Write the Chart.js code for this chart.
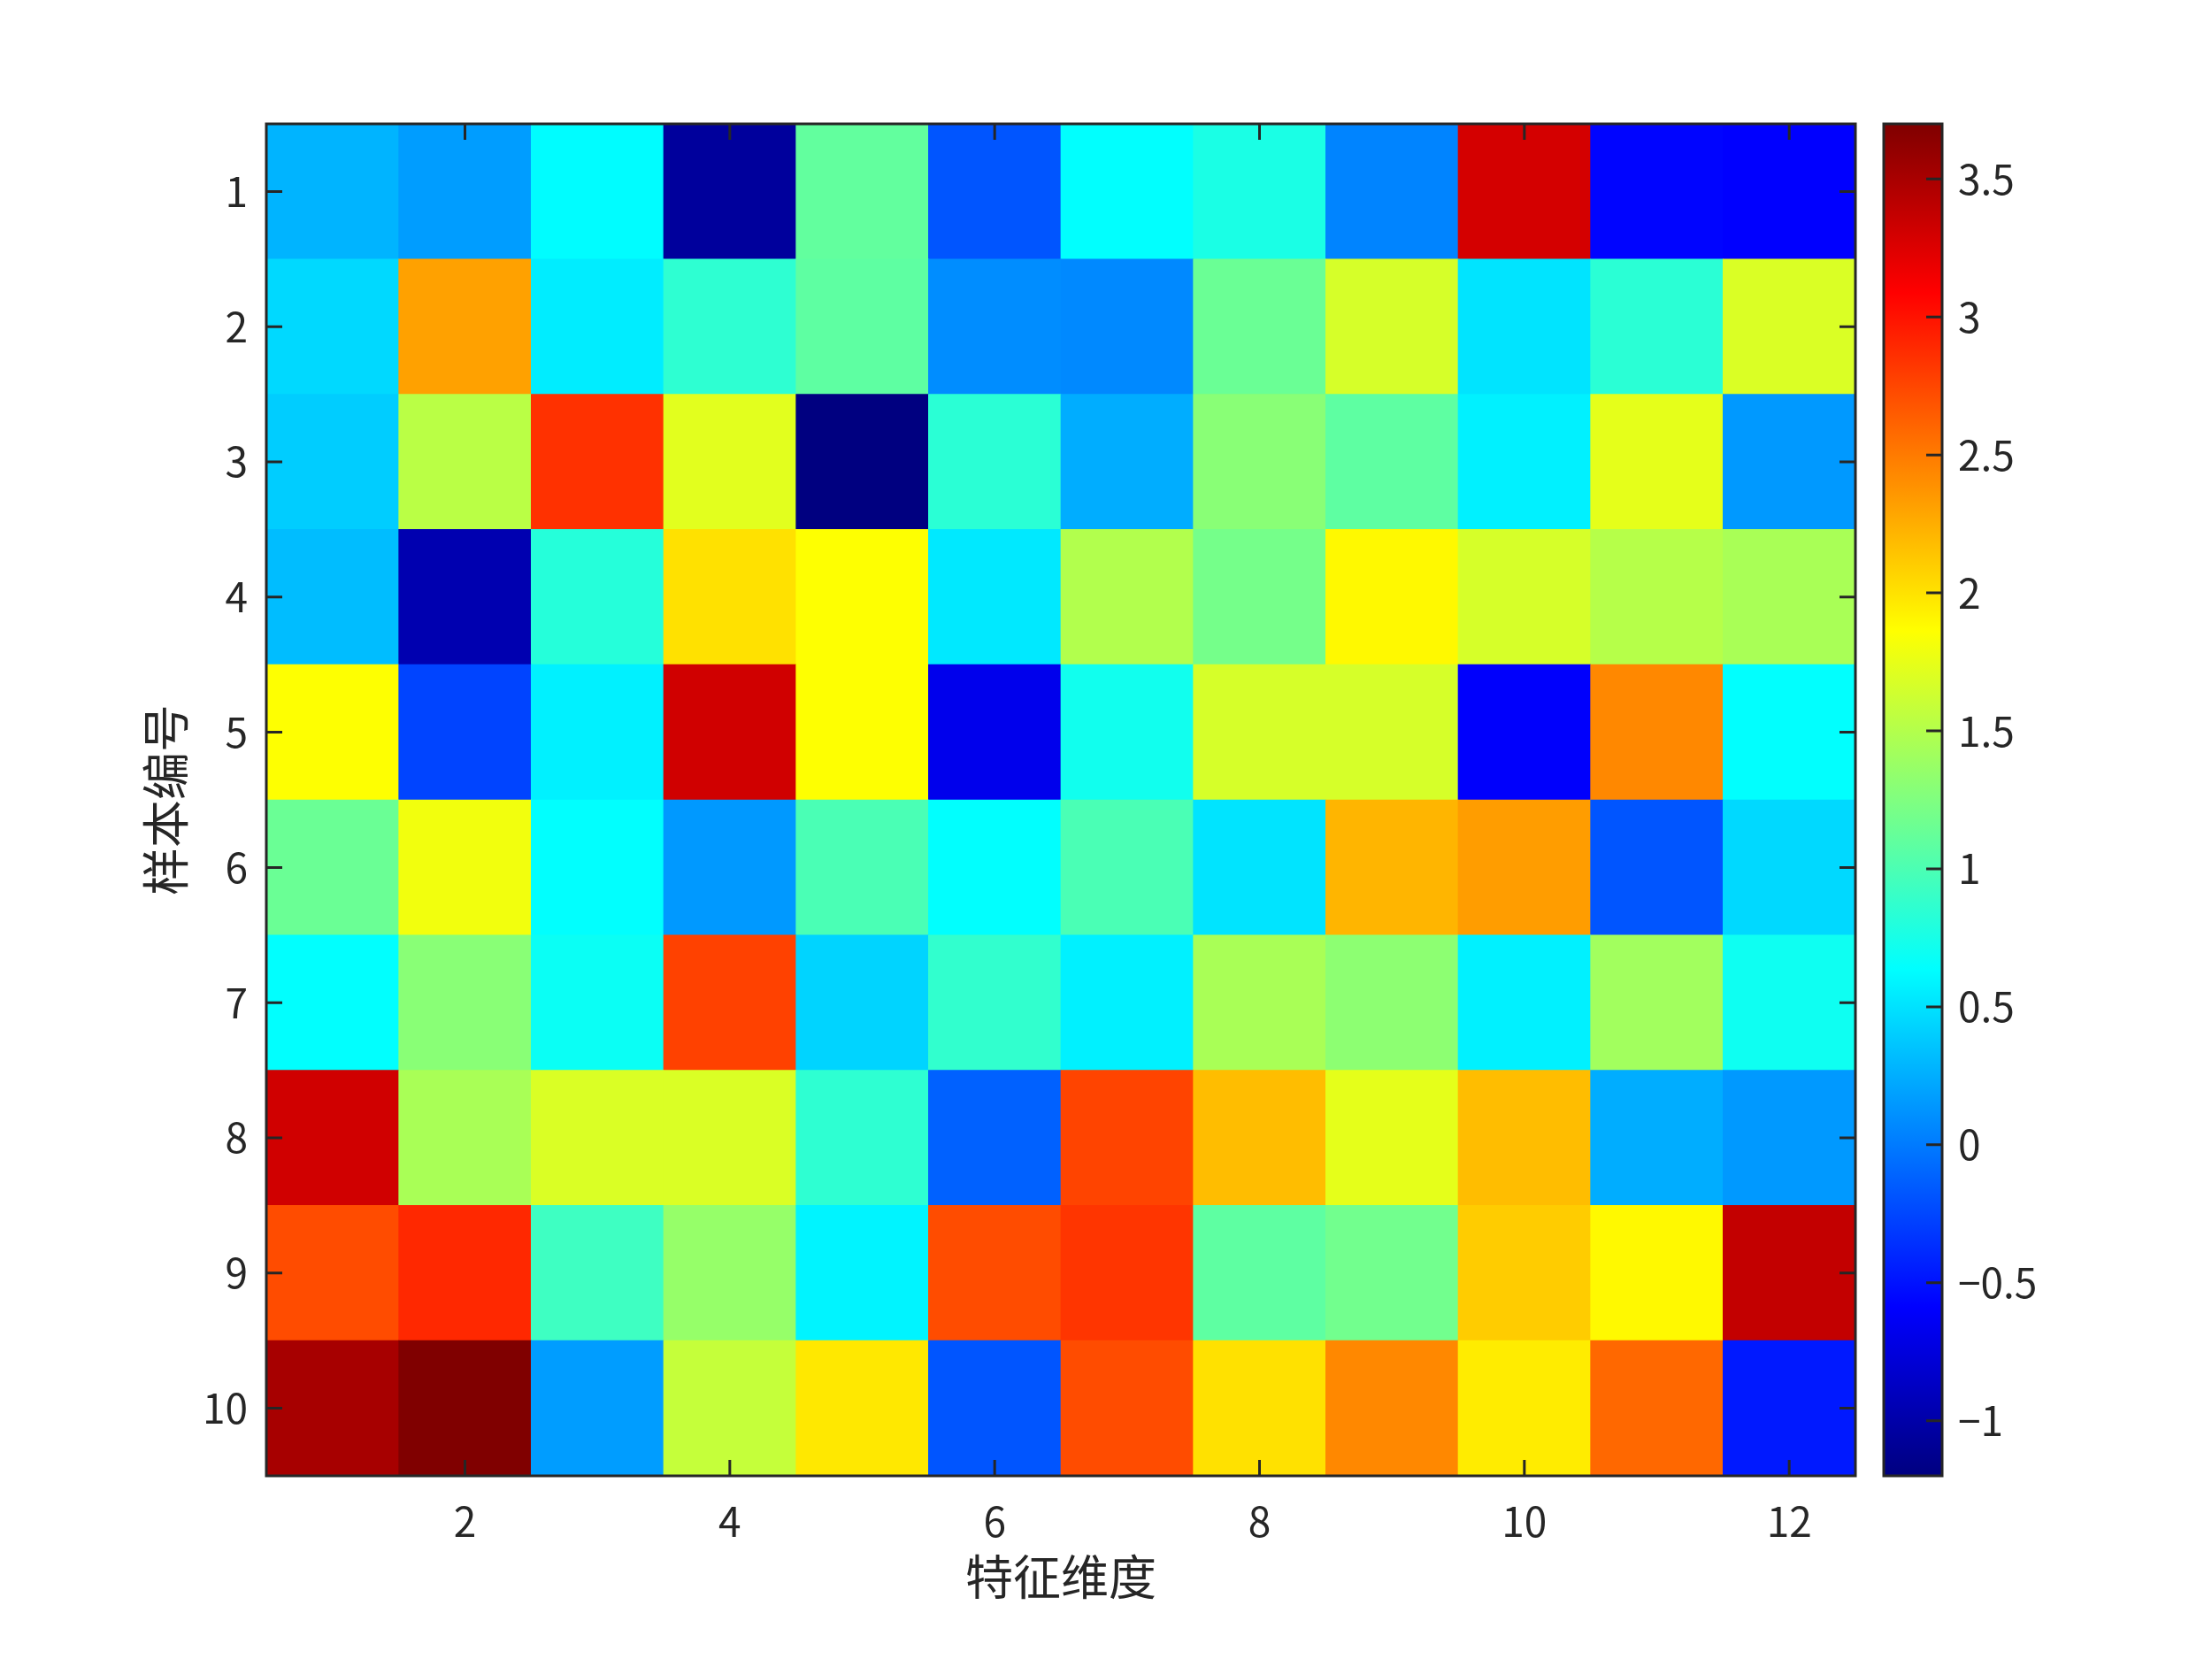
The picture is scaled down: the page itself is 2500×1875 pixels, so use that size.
<!DOCTYPE html>
<html lang="zh">
<head>
    <meta charset="UTF-8">
    <title>样本特征热图</title>
    <script src="https://cdn.jsdelivr.net/npm/chart.js"></script>
    <style>
        html, body { margin: 0; padding: 0; background: #fff; }
        .wrap { position: relative; width: 2500px; height: 1875px; }
        .wrap canvas { position: absolute; left: 0; top: 0; }
    </style>
</head>
<body>
    <div class="wrap">
        <canvas id="heatChart" width="2500" height="1875"></canvas>
        <canvas id="cbarChart" width="2500" height="1875"></canvas>
    </div>

    <script>
        // 列: 特征维度, 行: 样本编号
        const featureIds = [1, 2, 3, 4, 5, 6, 7, 8, 9, 10, 11, 12];
        const sampleIds = [1, 2, 3, 4, 5, 6, 7, 8, 9, 10];
        const xTickValues = [2, 4, 6, 8, 10, 12];
        const yTickValues = [1, 2, 3, 4, 5, 6, 7, 8, 9, 10];
        const cbarTickValues = [-1, -0.5, 0, 0.5, 1, 1.5, 2, 2.5, 3, 3.5];

        // 每行一个样本, 12 个特征
        const heatValues = [
            [0.28, 0.16, 0.62, -1.05, 1.10, -0.17, 0.64, 0.76, 0.05, 3.29, -0.55, -0.57],
            [0.45, 2.31, 0.55, 0.85, 1.08, 0.10, 0.08, 1.14, 1.66, 0.51, 0.83, 1.68],
            [0.39, 1.52, 2.85, 1.72, -1.20, 0.83, 0.24, 1.29, 1.08, 0.57, 1.73, 0.14],
            [0.32, -0.97, 0.81, 2.01, 1.86, 0.53, 1.48, 1.21, 1.90, 1.66, 1.50, 1.45],
            [1.86, -0.26, 0.57, 3.31, 1.86, -0.67, 0.72, 1.66, 1.66, -0.59, 2.42, 0.64],
            [1.15, 1.79, 0.64, 0.14, 1.00, 0.64, 1.00, 0.51, 2.22, 2.34, -0.17, 0.45],
            [0.64, 1.29, 0.68, 2.78, 0.43, 0.88, 0.57, 1.45, 1.31, 0.57, 1.42, 0.70],
            [3.31, 1.46, 1.69, 1.69, 0.85, -0.11, 2.76, 2.18, 1.73, 2.18, 0.24, 0.14],
            [2.72, 2.88, 0.94, 1.35, 0.59, 2.71, 2.82, 1.08, 1.19, 2.11, 1.90, 3.36],
            [3.49, 3.70, 0.16, 1.58, 1.97, -0.17, 2.72, 2.01, 2.42, 1.94, 2.58, -0.46]
        ];

        const axisColor = '#262626';
        const fontFamily = '"Noto Sans CJK SC", "Noto Sans", sans-serif';
        const tickLen = 18;

        const allVals = heatValues.flat();
        const cMin = Math.min(...allVals);
        const cMax = Math.max(...allVals);

        // jet colormap
        function jet(t) {
            const c = v => Math.round(255 * Math.max(0, Math.min(1, v)));
            const r = c(1.5 - Math.abs(4 * t - 3));
            const g = c(1.5 - Math.abs(4 * t - 2));
            const b = c(1.5 - Math.abs(4 * t - 1));
            return `rgb(${r},${g},${b})`;
        }
        function valueColor(v) {
            let t = (v - cMin) / (cMax - cMin);
            t = Math.min(255, Math.floor(t * 256)) / 255;
            return jet(t);
        }

        const fmt = v => (v < 0 ? '\u2212' + Math.abs(v) : String(v));

        // 内向刻度 + 外框
        const matlabFrame = {
            id: 'matlabFrame',
            afterDraw(chart, args, opts) {
                const { ctx, chartArea: a, scales } = chart;
                ctx.save();
                ctx.strokeStyle = axisColor;
                ctx.lineWidth = 3;
                ctx.beginPath();
                (opts.xSides || []).forEach(side => {
                    scales.x.ticks.forEach(t => {
                        const px = scales.x.getPixelForValue(t.value);
                        if (side === 'bottom') { ctx.moveTo(px, a.bottom); ctx.lineTo(px, a.bottom - tickLen); }
                        else { ctx.moveTo(px, a.top); ctx.lineTo(px, a.top + tickLen); }
                    });
                });
                (opts.ySides || []).forEach(side => {
                    scales.y.ticks.forEach(t => {
                        const py = scales.y.getPixelForValue(t.value);
                        if (side === 'left') { ctx.moveTo(a.left, py); ctx.lineTo(a.left + tickLen, py); }
                        else { ctx.moveTo(a.right, py); ctx.lineTo(a.right - tickLen, py); }
                    });
                });
                ctx.stroke();
                ctx.strokeRect(a.left, a.top, a.right - a.left, a.bottom - a.top);
                ctx.restore();
            }
        };

        // 热图单元: 浮动柱
        const cells = [];
        const cellColors = [];
        sampleIds.forEach((s, i) => {
            featureIds.forEach((f, j) => {
                cells.push({ x: f, y: [s - 0.5, s + 0.5] });
                cellColors.push(valueColor(heatValues[i][j]));
            });
        });

        new Chart(document.getElementById('heatChart'), {
            type: 'bar',
            data: {
                datasets: [{
                    data: cells,
                    backgroundColor: cellColors,
                    borderWidth: 0,
                    barPercentage: 1,
                    categoryPercentage: 1
                }]
            },
            plugins: [matlabFrame],
            options: {
                responsive: false,
                animation: false,
                layout: { padding: { left: 0, top: 140, right: 403, bottom: 0 } },
                plugins: {
                    legend: { display: false },
                    tooltip: { enabled: false },
                    matlabFrame: { xSides: ['bottom', 'top'], ySides: ['left', 'right'] }
                },
                scales: {
                    x: {
                        type: 'linear',
                        min: 0.5,
                        max: 12.5,
                        offset: false,
                        grid: { display: false, drawTicks: false },
                        border: { display: false },
                        afterBuildTicks: s => { s.ticks = xTickValues.map(v => ({ value: v })); },
                        afterFit: s => { s.height = 207; },
                        ticks: {
                            padding: 24,
                            color: axisColor,
                            font: { family: fontFamily, size: 46 },
                            callback: v => String(v)
                        },
                        title: {
                            display: true,
                            text: '特征维度',
                            color: axisColor,
                            font: { family: fontFamily, size: 54 },
                            padding: { top: 0, bottom: 60 }
                        }
                    },
                    y: {
                        type: 'linear',
                        reverse: true,
                        min: 0.5,
                        max: 10.5,
                        grid: { display: false, drawTicks: false },
                        border: { display: false },
                        afterBuildTicks: s => { s.ticks = yTickValues.map(v => ({ value: v })); },
                        afterFit: s => { s.width = 301; },
                        ticks: {
                            padding: 21,
                            color: axisColor,
                            font: { family: fontFamily, size: 46 },
                            callback: v => String(v)
                        },
                        title: {
                            display: true,
                            text: '样本编号',
                            color: axisColor,
                            font: { family: fontFamily, size: 54 },
                            padding: { top: 155, bottom: 0 }
                        }
                    }
                }
            }
        });

        // 颜色条
        new Chart(document.getElementById('cbarChart'), {
            type: 'bar',
            data: {
                labels: ['cbar'],
                datasets: [{
                    data: [[cMin, cMax]],
                    backgroundColor: c => {
                        const area = c.chart.chartArea;
                        if (!area) return 'transparent';
                        const g = c.chart.ctx.createLinearGradient(0, area.bottom, 0, area.top);
                        for (let i = 0; i <= 64; i++) g.addColorStop(i / 64, jet(i / 64));
                        return g;
                    },
                    borderWidth: 0,
                    barPercentage: 1,
                    categoryPercentage: 1
                }]
            },
            plugins: [matlabFrame],
            options: {
                responsive: false,
                animation: false,
                layout: { padding: { left: 2129, top: 140, right: 0, bottom: 207 } },
                plugins: {
                    legend: { display: false },
                    tooltip: { enabled: false },
                    matlabFrame: { ySides: ['right'] }
                },
                scales: {
                    x: { display: false, offset: true },
                    y: {
                        position: 'right',
                        min: cMin,
                        max: cMax,
                        grid: { display: false, drawTicks: false },
                        border: { display: false },
                        afterBuildTicks: s => { s.ticks = cbarTickValues.map(v => ({ value: v })); },
                        afterFit: s => { s.width = 305; },
                        ticks: {
                            padding: 18,
                            color: axisColor,
                            font: { family: fontFamily, size: 46 },
                            callback: v => fmt(v)
                        }
                    }
                }
            }
        });
    </script>
</body>
</html>
